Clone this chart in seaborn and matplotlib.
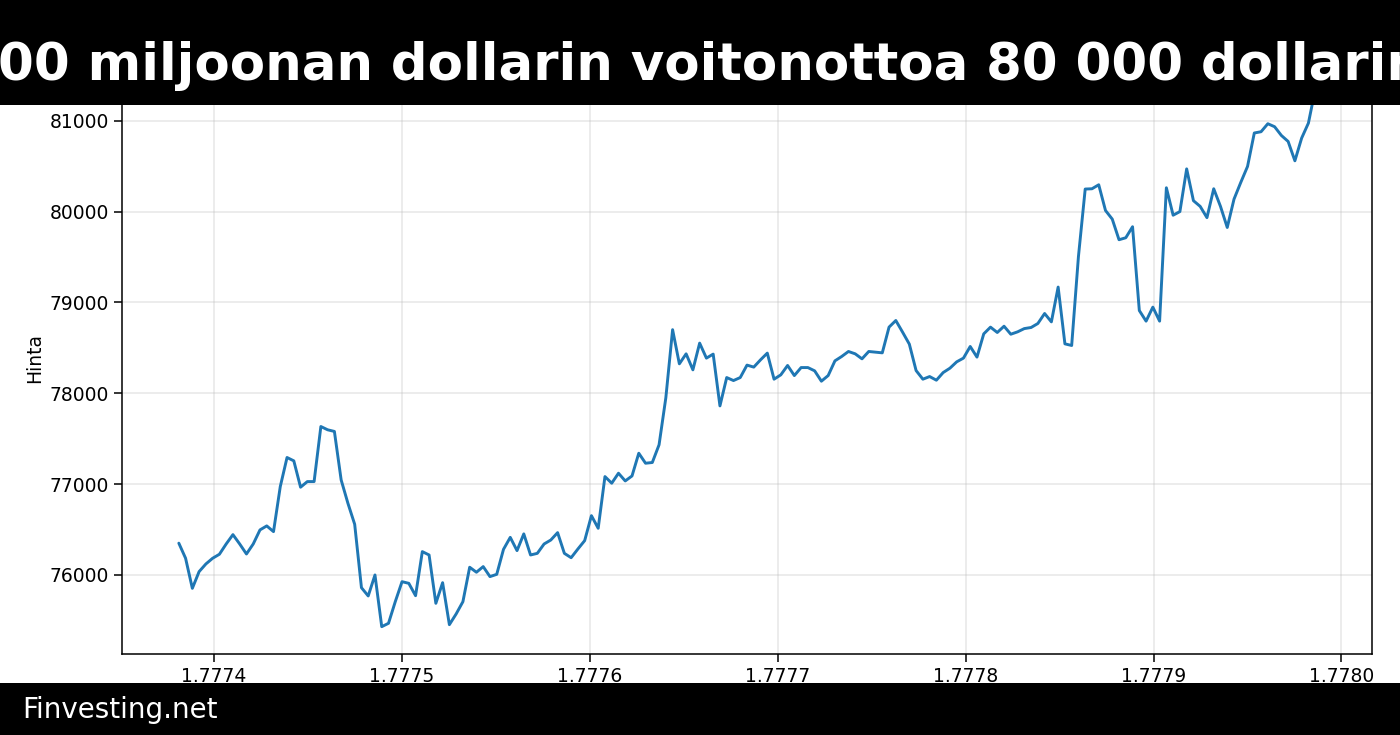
import numpy as np
import pandas as pd
import seaborn as sns
import matplotlib.pyplot as plt
from matplotlib.patches import Rectangle

# Tekstit
title = "00 miljoonan dollarin voitonottoa 80 000 dollarin"
brand = "Finvesting.net"
y_label = "Hinta"

# Tuntihinnat (luettu kuvasta), alkaen 2026-04-28 13:00 UTC
price = [
    76350, 76184, 75853, 76037, 76121, 76184, 76228, 76341, 76444, 76341,
    76231, 76341, 76496, 76540, 76477, 76973, 77293, 77256, 76966, 77028,
    77028, 77634, 77598, 77580, 77046, 76789, 76558, 75860, 75769, 76000,
    75431, 75468, 75706, 75926, 75908, 75772, 76257, 76220, 75688, 75915,
    75453, 75571, 75706, 76085, 76030, 76092, 75982, 76007, 76282, 76414,
    76268, 76452, 76220, 76238, 76341, 76385, 76466, 76238, 76190, 76286,
    76378, 76653, 76514, 77083, 77010, 77120, 77035, 77090, 77340, 77230,
    77238, 77433, 77950, 78700, 78324, 78434, 78258, 78552, 78387, 78431,
    77861, 78173, 78140, 78173, 78310, 78288, 78368, 78442, 78155, 78203,
    78306, 78195, 78283, 78283, 78247, 78133, 78195, 78357, 78405, 78460,
    78434, 78379, 78460, 78452, 78445, 78728, 78801, 78673, 78541, 78250,
    78155, 78184, 78144, 78228, 78276, 78346, 78387, 78515, 78398, 78654,
    78728, 78669, 78738, 78650, 78676, 78712, 78724, 78768, 78878, 78786,
    79169, 78544, 78526, 79505, 80248, 80251, 80295, 80012, 79917, 79690,
    79712, 79833, 78911, 78794, 78948, 78794, 80262, 79960, 80000, 80470,
    80120, 80057, 79933, 80251, 80057, 79825, 80137, 80321, 80497, 80865,
    80879, 80967, 80934, 80838, 80772, 80559, 80809, 80974, 81340,
]

times = pd.date_range("2026-04-28 13:00", periods=len(price), freq="h")
ts = np.asarray(times.astype("int64") // 10**9, dtype=float)  # unix-sekunnit

sns.set_theme(style="ticks")
plt.rcParams['font.family'] = ['DejaVu Sans']

fig = plt.figure(figsize=(14, 7.35), dpi=100)
ax = fig.add_axes([122 / 1400, 1 - 653.5 / 735, 1250 / 1400, 590.5 / 735])

sns.lineplot(x=ts, y=price, ax=ax, color="#1f77b4", linewidth=2.1)

ax.grid(True, color="#b0b0b0", alpha=0.3, linewidth=1.1)
for s in ax.spines.values():
    s.set_color("black")
    s.set_linewidth(1.1)
ax.tick_params(labelsize=13.5, length=6, width=1.1, color="black", labelcolor="black")
ax.set_ylabel(y_label, fontsize=13.5, color="black")
ax.set_xlabel("")

# Mustat palkit ylä- ja alareunaan
fig.add_artist(Rectangle((0, 1 - 105 / 735), 1, 105 / 735, transform=fig.transFigure,
                         facecolor="black", edgecolor="none", zorder=10))
fig.add_artist(Rectangle((0, 0), 1, 52 / 735, transform=fig.transFigure,
                         facecolor="black", edgecolor="none", zorder=10))
fig.text(710 / 1400, 1 - 80 / 735, title, ha="center", va="baseline", color="white",
         fontsize=37, fontweight="bold", zorder=11)
fig.text(22 / 1400, 17 / 735, brand, ha="left", va="baseline", color="white",
         fontsize=20, zorder=11)

fig.savefig("out.png", dpi=100)
